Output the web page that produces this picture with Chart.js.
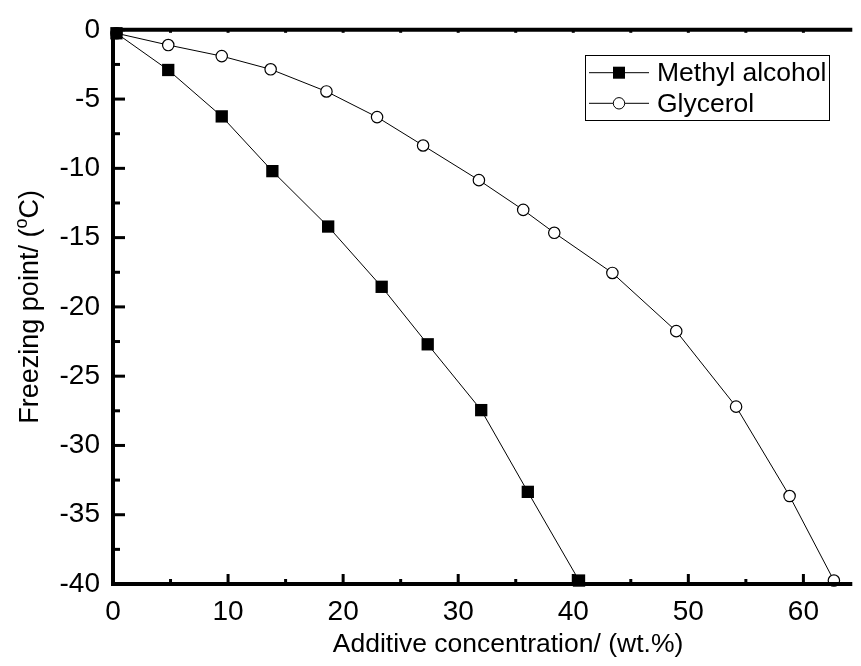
<!DOCTYPE html>
<html>
<head>
<meta charset="utf-8">
<script src="https://cdn.jsdelivr.net/npm/chart.js@4.4.0/dist/chart.umd.min.js"></script>
<style>
  html, body { margin: 0; padding: 0; background: #fff; }
  #wrap { width: 861px; height: 666px; position: relative; }
</style>
</head>
<body>
<div id="wrap"><canvas id="c" width="861" height="666"></canvas></div>
<script>
// ---- data ----
const methylX = [0.3, 4.8, 9.45, 13.85, 18.7, 23.35, 27.35, 32.0, 36.05, 40.5];
const methylY = [-0.25, -2.9, -6.25, -10.2, -14.2, -18.55, -22.7, -27.45, -33.35, -39.75];
const glycerolX = [0.3, 4.8, 9.45, 13.7, 18.55, 22.95, 26.95, 31.8, 35.65, 38.35, 43.4, 48.95, 54.15, 58.8, 62.65];
const glycerolY = [-0.25, -1.1, -1.9, -2.85, -4.45, -6.3, -8.35, -10.85, -13.0, -14.65, -17.55, -21.75, -27.2, -33.65, -39.75];
const xTicks = [0, 10, 20, 30, 40, 50, 60];
const yTicks = [0, -5, -10, -15, -20, -25, -30, -35, -40];
const seriesNames = ['Methyl alcohol', 'Glycerol'];
const xTitle = 'Additive concentration/ (wt.%)';
const yTitleParts = ['Freezing point/ (', 'o', 'C)'];

const FONT = 'Liberation Sans, Arial, Helvetica, sans-serif';

function pts(xs, ys) { return xs.map((x, i) => ({ x: x, y: ys[i] })); }

const axesPlugin = {
  id: 'axesPlugin',
  afterDatasetsDraw(chart) {
    const ctx = chart.ctx;
    const xs = chart.scales.x, ys = chart.scales.y;
    const a = chart.chartArea;
    ctx.save();
    ctx.strokeStyle = '#000';
    ctx.lineCap = 'butt';
    ctx.lineWidth = 3;
    for (let v = 0; v <= 60; v += 5) {
      const px = xs.getPixelForValue(v);
      const len = (v % 10 === 0) ? 10 : 5;
      ctx.beginPath(); ctx.moveTo(px, a.bottom); ctx.lineTo(px, a.bottom - len); ctx.stroke();
      ctx.beginPath(); ctx.moveTo(px, a.top); ctx.lineTo(px, a.top + 3); ctx.stroke();
    }
    for (let v = 0; v >= -40; v -= 2.5) {
      const py = ys.getPixelForValue(v);
      const len = (Math.abs(v) % 5 === 0) ? 12 : 7;
      ctx.beginPath(); ctx.moveTo(a.left, py); ctx.lineTo(a.left + len, py); ctx.stroke();
    }
    ctx.lineWidth = 4;
    ctx.beginPath(); ctx.moveTo(a.left, a.bottom); ctx.lineTo(a.right, a.bottom); ctx.stroke();
    ctx.beginPath(); ctx.moveTo(a.left, a.top); ctx.lineTo(a.right, a.top); ctx.stroke();
    ctx.beginPath(); ctx.moveTo(a.left, a.top - 2); ctx.lineTo(a.left, a.bottom + 2); ctx.stroke();

    ctx.fillStyle = '#000';
    // x title
    ctx.font = '26.5px ' + FONT;
    ctx.textAlign = 'center';
    ctx.textBaseline = 'middle';
    ctx.fillText(xTitle, 508, 645);

    // y title with superscript
    const big = '27px ' + FONT, small = '18px ' + FONT;
    ctx.font = big;
    const w1 = ctx.measureText(yTitleParts[0]).width;
    const w3 = ctx.measureText(yTitleParts[2]).width;
    ctx.font = small;
    const w2 = ctx.measureText(yTitleParts[1]).width;
    const total = w1 + w2 + w3;
    const cy = (a.top + a.bottom) / 2;
    ctx.translate(31, cy);
    ctx.rotate(-Math.PI / 2);
    let xx = -total / 2;
    ctx.textAlign = 'left';
    ctx.font = big; ctx.fillText(yTitleParts[0], xx, 0); xx += w1;
    ctx.font = small; ctx.fillText(yTitleParts[1], xx, -9); xx += w2;
    ctx.font = big; ctx.fillText(yTitleParts[2], xx, 0);
    ctx.setTransform(1, 0, 0, 1, 0, 0);

    // legend
    const lx = 585, ly = 55, lw = 244, lh = 65;
    ctx.lineWidth = 1;
    ctx.strokeStyle = '#000';
    ctx.strokeRect(lx + 0.5, ly + 0.5, lw, lh);
    const rows = [72.7, 103.3];
    chart.data.datasets.forEach((ds, i) => {
      const y = rows[i];
      ctx.lineWidth = 1;
      ctx.beginPath(); ctx.moveTo(589, y); ctx.lineTo(649, y); ctx.stroke();
      if (ds.pointStyle === 'rect') {
        ctx.fillStyle = '#000';
        ctx.fillRect(619 - 6, y - 6, 12, 12);
      } else {
        ctx.fillStyle = '#fff';
        ctx.beginPath(); ctx.arc(619, y, 5.7, 0, Math.PI * 2); ctx.fill(); ctx.stroke();
      }
      ctx.fillStyle = '#000';
      ctx.font = '26.5px ' + FONT;
      ctx.textAlign = 'left';
      ctx.textBaseline = 'middle';
      ctx.fillText(ds.label, 657, y + 1);
    });
    ctx.restore();
  }
};

new Chart(document.getElementById('c'), {
  type: 'scatter',
  data: {
    datasets: [
      {
        label: seriesNames[0],
        data: pts(methylX, methylY),
        showLine: true,
        borderColor: '#000',
        borderWidth: 1,
        backgroundColor: '#000',
        pointStyle: 'rect',
        pointRadius: 8.7,
        pointBorderWidth: 0,
        pointBackgroundColor: '#000',
        clip: false
      },
      {
        label: seriesNames[1],
        data: pts(glycerolX, glycerolY),
        showLine: true,
        borderColor: '#000',
        borderWidth: 1,
        backgroundColor: '#fff',
        pointStyle: 'circle',
        pointRadius: 5.7,
        pointBorderWidth: 1.2,
        pointBorderColor: '#000',
        pointBackgroundColor: '#fff',
        clip: false
      }
    ]
  },
  plugins: [axesPlugin],
  options: {
    responsive: false,
    animation: false,
    devicePixelRatio: 1,
    layout: { padding: { top: 20, right: 0, bottom: 0, left: 0 } },
    plugins: { legend: { display: false }, tooltip: { enabled: false } },
    scales: {
      x: {
        type: 'linear',
        min: 0,
        max: 64.25,
        grid: { display: false, drawTicks: false },
        border: { display: false },
        afterBuildTicks: (s) => { s.ticks = xTicks.map(v => ({ value: v })); },
        afterFit: (s) => { s.height = 82; },
        ticks: { color: '#000', font: { family: FONT, size: 28 }, padding: 11, maxRotation: 0, autoSkip: false },
        title: { display: false }
      },
      y: {
        type: 'linear',
        min: -40,
        max: 0,
        grid: { display: false, drawTicks: false },
        border: { display: false },
        afterBuildTicks: (s) => { s.ticks = yTicks.map(v => ({ value: v })); },
        afterFit: (s) => { s.width = 113; },
        ticks: { color: '#000', font: { family: FONT, size: 28 }, padding: 13, autoSkip: false }
      }
    }
  }
});
</script>
</body>
</html>
